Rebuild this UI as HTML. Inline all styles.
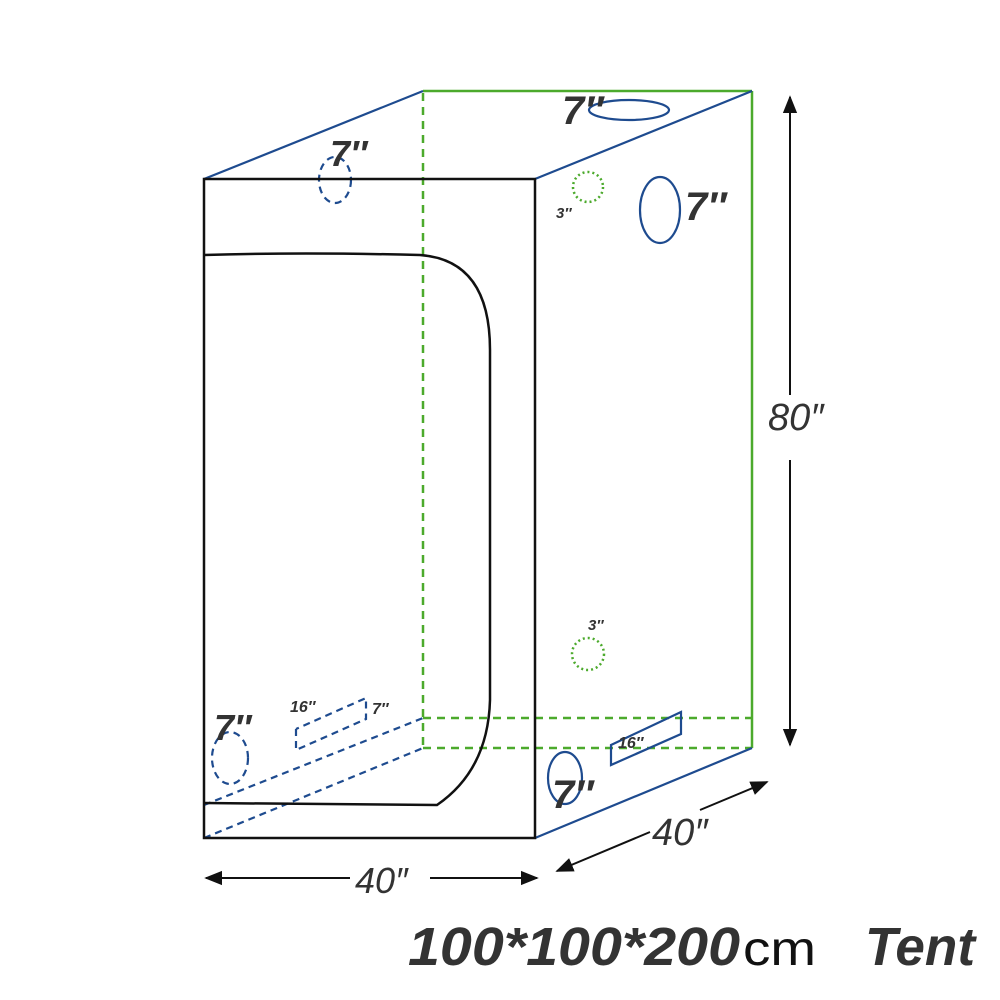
<!DOCTYPE html>
<html><head><meta charset="utf-8"><style>body{margin:0;background:#fff}svg{display:block}</style></head>
<body>
<svg width="1000" height="1000" viewBox="0 0 1000 1000" xmlns="http://www.w3.org/2000/svg" font-family="Liberation Sans, sans-serif">
<defs>
<marker id="ah" viewBox="0 0 10 10" refX="9" refY="5" markerWidth="9" markerHeight="9" orient="auto-start-reverse"><path d="M0,1 L10,5 L0,9 z" fill="#111"/></marker>
</defs>
<g stroke="#4caa2c" stroke-width="2.5" fill="none">
<line x1="423" y1="91" x2="752" y2="91"/>
<line x1="752" y1="91" x2="752" y2="748"/>
<g stroke-dasharray="8,6">
<line x1="423" y1="93" x2="423" y2="748"/>
<line x1="423" y1="718" x2="752" y2="718"/>
<line x1="423" y1="748" x2="752" y2="748"/>
</g>
<circle cx="588" cy="187" r="15" stroke-dasharray="2,3"/>
<circle cx="588" cy="654" r="16" stroke-dasharray="2,3"/>
</g>
<g stroke="#1e4b8f" stroke-width="2.2" fill="none">
<line x1="204" y1="179" x2="423" y2="91"/>
<line x1="535" y1="179" x2="752" y2="91"/>
<line x1="535" y1="838" x2="752" y2="748"/>
<ellipse cx="629" cy="110" rx="40" ry="10"/>
<ellipse cx="660" cy="210" rx="20" ry="33"/>
<ellipse cx="565" cy="778" rx="17" ry="26"/>
<polygon points="611,745 681,712 681,734 611,765"/>
<g stroke-dasharray="7,5">
<line x1="204" y1="805" x2="423" y2="718"/>
<line x1="204" y1="838" x2="423" y2="748"/>
<ellipse cx="335" cy="180" rx="16" ry="23"/>
<ellipse cx="230" cy="758" rx="18" ry="26"/>
<polyline points="296,729 296,750 366,719 366,698 296,729"/>
</g>
</g>
<g stroke="#111" stroke-width="2.5" fill="none">
<rect x="204" y="179" width="331" height="659"/>
<path d="M204,255 Q300,252 420,255 Q490,260 490,350 L490,700 Q488,770 437,805 L204,803"/>
</g>
<g stroke="#111" stroke-width="2" fill="none" marker-end="url(#ah)">
<line x1="790" y1="395" x2="790" y2="97"/>
<line x1="790" y1="460" x2="790" y2="745"/>
<line x1="350" y1="878" x2="206" y2="878"/>
<line x1="430" y1="878" x2="537" y2="878"/>
<line x1="650" y1="832" x2="557" y2="871"/>
<line x1="700" y1="810" x2="767" y2="782"/>
</g>
<g fill="#333" font-style="italic">
<text x="562" y="124" font-size="40" font-weight="bold">7″</text>
<text x="330" y="166" font-size="36" font-weight="bold">7″</text>
<text x="685" y="220" font-size="40" font-weight="bold">7″</text>
<text x="556" y="218" font-size="15" font-weight="bold">3″</text>
<text x="588" y="630" font-size="15" font-weight="bold">3″</text>
<text x="214" y="740" font-size="36" font-weight="bold">7″</text>
<text x="290" y="712" font-size="16" font-weight="bold">16″</text>
<text x="372" y="714" font-size="16" font-weight="bold">7″</text>
<text x="618" y="748" font-size="16" font-weight="bold">16″</text>
<text x="552" y="808" font-size="40" font-weight="bold">7″</text>
<text x="768" y="430" font-size="38">80″</text>
<text x="355" y="893" font-size="36">40″</text>
<text x="652" y="845" font-size="38">40″</text>
<text x="408" y="965" font-size="54" font-weight="bold" textLength="332" lengthAdjust="spacingAndGlyphs">100*100*200</text>
<text x="865" y="965" font-size="54" font-weight="bold" textLength="110" lengthAdjust="spacingAndGlyphs">Tent</text>
</g>
<text x="743" y="965" font-size="48" fill="#111" textLength="73" lengthAdjust="spacingAndGlyphs">cm</text>
</svg>
</body></html>
